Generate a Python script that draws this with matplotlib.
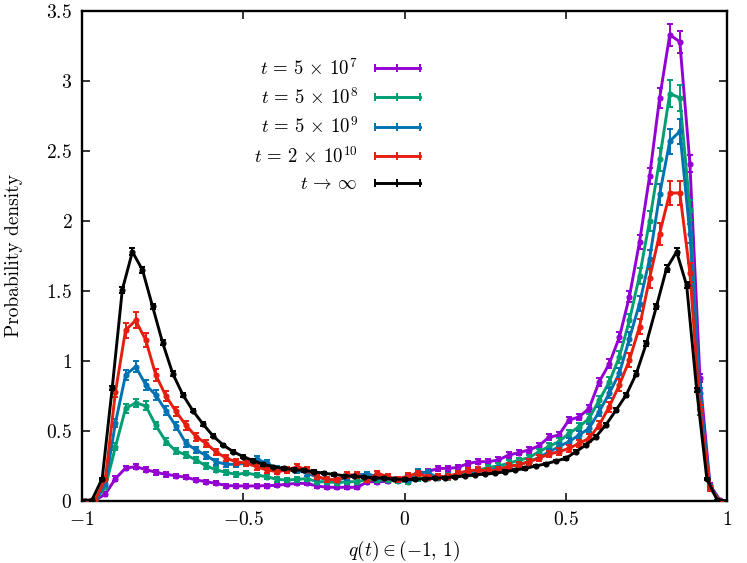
import numpy as np
import matplotlib
matplotlib.use("Agg")
from matplotlib import pyplot as plt
from matplotlib.lines import Line2D

plt.rcParams['mathtext.fontset'] = 'cm'
plt.rcParams['font.family'] = 'serif'
plt.rcParams['font.serif'] = ['cmr10', 'DejaVu Serif']
plt.rcParams['axes.unicode_minus'] = False

# histogram grid of the overlap q(t)
q_grid = np.linspace(-1, 1, 65)
q_finite = q_grid[:-1] + 0.01  # finite-t histograms sit slightly to the right

labels = [r'$t\,=\,5\,\times\,10^{7}$', r'$t\,=\,5\,\times\,10^{8}$',
          r'$t\,=\,5\,\times\,10^{9}$', r'$t\,=\,2\,\times\,10^{10}$',
          r'$t\,\to\,\infty$']
colors = ['#9400D3', '#009E73', '#0072B2', '#E51E10', '#000000']

p_5e7 = [0, 0.005, 0.05, 0.16, 0.235, 0.245, 0.225, 0.205, 0.19, 0.18,
         0.17, 0.15, 0.138, 0.126, 0.11, 0.108, 0.107, 0.108, 0.11, 0.112,
         0.12, 0.126, 0.126, 0.107, 0.098, 0.098, 0.098, 0.098, 0.138, 0.138,
         0.14, 0.155, 0.174, 0.193, 0.21, 0.233, 0.233, 0.24, 0.269, 0.281,
         0.281, 0.293, 0.328, 0.345, 0.364, 0.393, 0.455, 0.471, 0.579, 0.60,
         0.662, 0.852, 0.98, 1.17, 1.46, 1.85, 2.32, 2.88, 3.33, 3.28,
         2.41, 0.876, 0.114, 0.005]
p_5e8 = [0, 0.005, 0.1, 0.388, 0.662, 0.70, 0.68, 0.54, 0.425, 0.356,
         0.33, 0.293, 0.25, 0.222, 0.204, 0.19, 0.2, 0.186, 0.174, 0.155,
         0.15, 0.155, 0.16, 0.138, 0.138, 0.131, 0.138, 0.138, 0.155, 0.15,
         0.15, 0.143, 0.138, 0.162, 0.165, 0.165, 0.17, 0.19, 0.21, 0.22,
         0.24, 0.25, 0.27, 0.29, 0.31, 0.35, 0.39, 0.424, 0.483, 0.53,
         0.59, 0.72, 0.85, 1.03, 1.29, 1.61, 2.0, 2.44, 2.91, 2.88,
         2.08, 0.686, 0.1, 0]
p_5e9 = [0, 0.005, 0.12, 0.56, 0.90, 0.96, 0.83, 0.757, 0.645, 0.535,
         0.412, 0.364, 0.325, 0.28, 0.262, 0.262, 0.27, 0.3, 0.27, 0.233,
         0.22, 0.22, 0.2, 0.17, 0.155, 0.15, 0.17, 0.186, 0.193, 0.174,
         0.17, 0.15, 0.155, 0.21, 0.2, 0.17, 0.18, 0.19, 0.2, 0.21,
         0.22, 0.23, 0.245, 0.26, 0.28, 0.31, 0.35, 0.388, 0.424, 0.471,
         0.519, 0.638, 0.769, 0.912, 1.16, 1.41, 1.73, 2.19, 2.57, 2.64,
         1.91, 0.77, 0.1, 0]
p_2e10 = [0, 0.01, 0.16, 0.78, 1.22, 1.29, 1.15, 0.90, 0.75, 0.64,
          0.54, 0.46, 0.41, 0.35, 0.305, 0.28, 0.27, 0.245, 0.222, 0.21,
          0.22, 0.245, 0.225, 0.174, 0.155, 0.15, 0.186, 0.186, 0.15, 0.198,
          0.174, 0.155, 0.179, 0.198, 0.17, 0.174, 0.174, 0.198, 0.217, 0.221,
          0.217, 0.221, 0.25, 0.257, 0.281, 0.305, 0.335, 0.352, 0.376, 0.412,
          0.448, 0.543, 0.674, 0.829, 1.007, 1.245, 1.59, 1.91, 2.20, 2.20,
          1.63, 0.65, 0.09, 0]
p_inf = [0, 0.01, 0.16, 0.81, 1.51, 1.78, 1.65, 1.39, 1.13, 0.91,
         0.76, 0.645, 0.55, 0.465, 0.40, 0.352, 0.317, 0.288, 0.262, 0.245,
         0.233, 0.225, 0.218, 0.21, 0.198, 0.19, 0.181, 0.177, 0.17, 0.166,
         0.162, 0.157, 0.154, 0.155, 0.16, 0.162, 0.167, 0.174, 0.179, 0.186,
         0.193, 0.198, 0.21, 0.221, 0.233, 0.25, 0.265, 0.285, 0.305, 0.352,
         0.40, 0.46, 0.545, 0.65, 0.757, 0.91, 1.126, 1.39, 1.66, 1.78,
         1.54, 0.79, 0.16, 0.01, 0]

# relative size of the error bars, read from the peaks
rel_err = [0.02, 0.028, 0.03, 0.035, 0.01]
err_floor = [0.012, 0.012, 0.012, 0.012, 0.006]

series = [p_5e7, p_5e8, p_5e9, p_2e10, p_inf]

fig = plt.figure(figsize=(7.47, 5.63), dpi=100)
ax = fig.add_axes([0.1098, 0.1101, 0.8634, 0.8704])

handles = []
for i, vals in enumerate(series):
    y = np.array(vals)
    x = q_grid if len(y) == len(q_grid) else q_finite
    yerr = rel_err[i] * y + err_floor[i] * (y > 0.02)
    ax.errorbar(x, y, yerr=yerr, color=colors[i], lw=2.1, elinewidth=1.4,
                capsize=2.5, capthick=1.4, marker='o', ms=3.4, zorder=2 + i)
    handles.append(Line2D([], [], color=colors[i], lw=2.1, marker='|',
                          ms=6, mew=1.4))

ax.set_xlim(-1, 1)
ax.set_ylim(0, 3.5)
xt = [-1, -0.5, 0, 0.5, 1]
yt = [0, 0.5, 1, 1.5, 2, 2.5, 3, 3.5]
ax.set_xticks(xt)
ax.set_xticklabels([r'$%g$' % v for v in xt])
ax.set_yticks(yt)
ax.set_yticklabels([r'$%g$' % v for v in yt])
ax.tick_params(direction='in', top=True, right=True, length=6, width=1.1,
               labelsize=14, pad=7)
for s in ax.spines.values():
    s.set_linewidth(1.7)

ax.set_xlabel(r'$q(t) \in (-1,\,1)$', fontsize=14)
ax.xaxis.set_label_coords(0.5, -0.077)
ax.set_ylabel('Probability density', fontsize=14)
ax.yaxis.set_label_coords(-0.092, 0.5)

leg = ax.legend(handles, labels, loc='upper right', bbox_to_anchor=(0.532, 0.905),
                frameon=False, markerfirst=False, numpoints=3, fontsize=13.5,
                handlelength=3.0, handletextpad=0.6, labelspacing=0.45,
                borderpad=0, borderaxespad=0)
for t in leg.get_texts():
    t.set_ha('right')

fig.savefig('out.png', dpi=100)
